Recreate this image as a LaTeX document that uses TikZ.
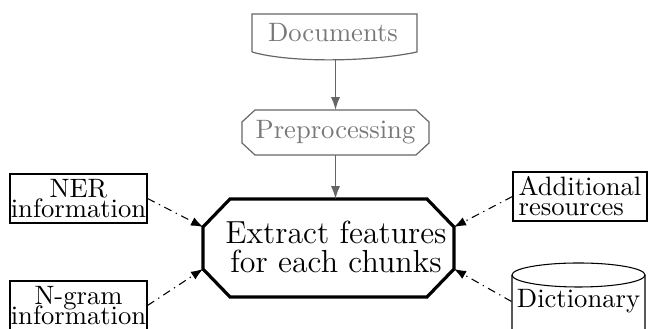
\documentclass[tikz,border=0pt]{standalone}
\usetikzlibrary{arrows.meta,calc}
\newcommand{\pxu}{0.376pt}
\begin{document}
\begin{tikzpicture}[x=0.376pt,y=-0.376pt,
  lab/.style={inner sep=0pt, align=center, font={\fontsize{10}{7.5}\selectfont\lineskiplimit=-20pt}},
  box/.style={lab, draw, line width=0.4pt, minimum width=137*\pxu, minimum height=49*\pxu},
  grayline/.style={draw=black!60, line width=0.45pt},
  grayarr/.style={draw=black!60, line width=0.55pt, -{Latex[length=4.8pt,width=3.4pt]}},
  dasharr/.style={line width=0.4pt, dash pattern=on 3pt off 1.8pt on 0.5pt off 1.8pt, -{Latex[length=4.5pt,width=3.4pt]}},
]
\useasboundingbox (0,0) rectangle (649,329);
\clip (0,0) rectangle (649,329);
% nodes
\node[lab, text=black!53] (docs) at (333,33) {Documents};
\node[lab, text=black!53] (prep) at (335.5,132.5) {Preprocessing};
\node[inner sep=0pt, align=center, font={\fontsize{12}{10.9}\selectfont\lineskiplimit=-20pt}] (ext) at (336,246.5) {Extract features\\for each chunks};
\node[box] (ner) at (78.5,198.5) {NER\\information};
\node[box] (ngram) at (78.5,305.5) {N-gram\\information};
\node[box, align=left, minimum width=134*\pxu] (addr) at (580,196.5) {Additional\\resources};
\node[lab, minimum width=133*\pxu] (dict) at (578.5,301.5) {Dictionary};
% documents shape
\draw[grayline] ($(docs.center)+(-81,19)$) -- ($(docs.center)+(-81,-19)$) -- ($(docs.center)+(84,-19)$) -- ($(docs.center)+(84,19)$) .. controls +(-47,10) and +(38,11) .. ($(docs.center)+(-81,19)$);
\coordinate (dS) at ($(docs.center)+(2.5,27)$);
% preprocessing octagon
\draw[grayline] ($(prep.center)+(-80.5,-22.5)$) -- ($(prep.center)+(80.5,-22.5)$) -- ($(prep.center)+(93.5,-10.5)$) -- ($(prep.center)+(93.5,10.5)$) -- ($(prep.center)+(80.5,22.5)$) -- ($(prep.center)+(-80.5,22.5)$) -- ($(prep.center)+(-93.5,10.5)$) -- ($(prep.center)+(-93.5,-10.5)$) -- cycle;
\coordinate (pN) at ($(prep.center)+(0,-22.5)$);
\coordinate (pS) at ($(prep.center)+(0,22.5)$);
% extract octagon
\coordinate (eL1) at ($(ext.center)+(-133,-19.5)$);
\coordinate (eL2) at ($(ext.center)+(-133,22.5)$);
\coordinate (eR1) at ($(ext.center)+(118,-19.5)$);
\coordinate (eR2) at ($(ext.center)+(118,22.5)$);
\coordinate (eN) at ($(ext.center)+(0,-47.5)$);
\draw[line width=1.2pt] ($(ext.center)+(-106,-47.5)$) -- ($(ext.center)+(91,-47.5)$) -- (eR1) -- (eR2) -- ($(ext.center)+(91,50.5)$) -- ($(ext.center)+(-106,50.5)$) -- (eL2) -- (eL1) -- cycle;
% dictionary cylinder
\draw[line width=0.4pt] ($(dict.center)+(0,-26.5)$) ellipse [x radius=66.5, y radius=12];
\draw[line width=0.4pt] ($(dict.center)+(-66.5,-26.5)$) -- ++(0,75) arc[start angle=180, end angle=0, x radius=66.5, y radius=12] -- ($(dict.center)+(66.5,-26.5)$);
% connectors
\draw[grayarr] (dS) -- (dS |- pN);
\draw[grayarr] (pS) -- (pS |- eN);
\draw[dasharr] (ner.east) -- (eL1);
\draw[dasharr] (ngram.east) -- (eL2);
\draw[dasharr] (addr.west) -- (eR1);
\draw[dasharr] (dict.west) -- (eR2);
\end{tikzpicture}
\end{document}
